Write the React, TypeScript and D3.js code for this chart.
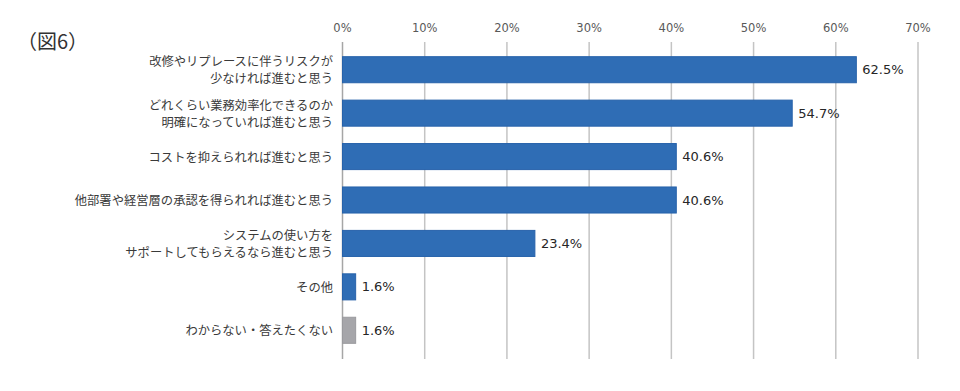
import React from 'react';
import * as d3 from 'd3';

const categories = [
  ['改修やリプレースに伴うリスクが', '少なければ進むと思う'],
  ['どれくらい業務効率化できるのか', '明確になっていれば進むと思う'],
  ['コストを抑えられれば進むと思う'],
  ['他部署や経営層の承認を得られれば進むと思う'],
  ['システムの使い方を', 'サポートしてもらえるなら進むと思う'],
  ['その他'],
  ['わからない・答えたくない'],
];
const values = [62.5, 54.7, 40.6, 40.6, 23.4, 1.6, 1.6];
const tickValues = [0, 10, 20, 30, 40, 50, 60, 70];
const title = '（図6）';

const numFont = "'DejaVu Sans', 'Noto Sans CJK JP', sans-serif";
const jpFont = "'Noto Sans CJK JP', sans-serif";

const App = () => {
  const width = 960;
  const height = 391;

  const xScale = d3.scaleLinear().domain([0, 70]).range([342.5, 918]);

  const yScale = d3.scaleBand<number>()
    .domain(values.map((_, i) => i))
    .range([48, 352])
    .paddingInner(0.4)
    .paddingOuter(0.2);

  const gridTop = 42;
  const gridBottom = 359;
  const lineGap = 17;

  return (
    <svg
      width={width}
      height={height}
      style={{ position: 'absolute', left: 0, top: 0, background: '#fff' }}
    >
      <text x={17} y={49} fontSize={20} fill="#333" fontFamily={jpFont}>
        {title}
      </text>

      {tickValues.map((t) => (
        <g key={t}>
          <line
            x1={xScale(t)}
            x2={xScale(t)}
            y1={gridTop}
            y2={gridBottom}
            stroke={t === 0 ? '#a6a6a6' : '#c4c4c4'}
            strokeWidth={1.5}
          />
          <text
            x={xScale(t)}
            y={32}
            textAnchor="middle"
            fontSize={11.5}
            fill="#595959"
            fontFamily={numFont}
          >
            {t}%
          </text>
        </g>
      ))}

      {values.map((v, i) => {
        const y0 = yScale(i) as number;
        const bw = yScale.bandwidth();
        const cy = y0 + bw / 2;
        const lines = categories[i];
        const isOther = i === values.length - 1;
        return (
          <g key={i}>
            <rect
              x={xScale(0)}
              y={y0}
              width={xScale(v) - xScale(0)}
              height={bw}
              fill={isOther ? '#a6a6aa' : '#2f6db5'}
              stroke={isOther ? '#9a9a9e' : '#2762aa'}
              strokeWidth={1}
            />
            <text
              x={xScale(v) + 6}
              y={cy}
              dominantBaseline="central"
              fontSize={13}
              fill="#262626"
              fontFamily={numFont}
            >
              {v.toFixed(1)}%
            </text>
            {lines.map((line, j) => (
              <text
                key={j}
                x={333}
                y={cy + (j - (lines.length - 1) / 2) * lineGap}
                dominantBaseline="central"
                textAnchor="end"
                fontSize={12.3}
                fill="#3a3a3a"
                fontFamily={jpFont}
              >
                {line}
              </text>
            ))}
          </g>
        );
      })}
    </svg>
  );
};

export default App;
